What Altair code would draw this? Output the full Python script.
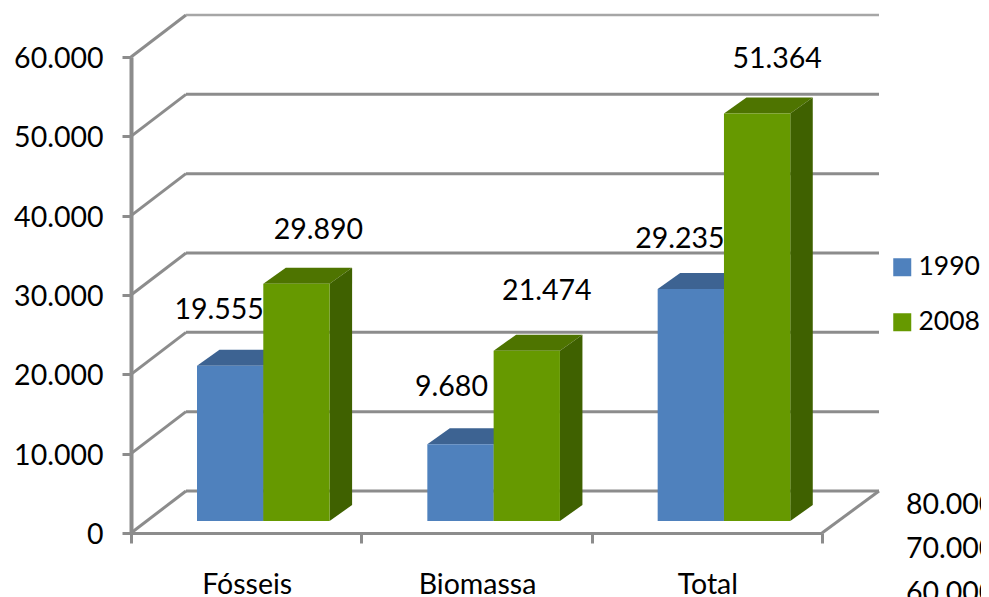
import altair as alt
import pandas as pd

# ---- values ----
categories = ["Fósseis", "Biomassa", "Total"]
series = ["1990", "2008"]
values_1990 = [19555, 9680, 29235]
values_2008 = [29890, 21474, 51364]
axis_ticks = [0, 10000, 20000, 30000, 40000, 50000, 60000]
stray_labels = ["80.000", "70.000", "60.000"]

# ---- geometry: pixel sizes converted to data units ----
W, H = 691, 476
X_UNIT = W / 3
Y_UNIT = H / 60000
def px_x(p): return p / X_UNIT
def px_y(p): return p / Y_UNIT
def fmt(v): return f"{v:,}".replace(",", ".")

WALL_DX, WALL_DY = px_x(55), px_y(42)
BAR_START, BAR_W = px_x(66), px_x(66.3)
BAR_DX, BAR_DY = px_x(22.5), px_y(16)
BASE = px_y(12)

BLUE, BLUE_TOP, BLUE_SIDE = "#4F81BD", "#3D6392", "#345580"
GREEN, GREEN_TOP, GREEN_SIDE = "#669900", "#4E7400", "#3F6100"
GRID = "#8C8C8C"
FONT = "Lato"
FS = 28.5

# per-label pixel offsets from the front-top-centre of the bar
label_off = {
    ("1990", 0): (-11, 56), ("2008", 0): (22, 54),
    ("1990", 1): (-9, 57), ("2008", 1): (20, 60),
    ("1990", 2): (-11, 50), ("2008", 2): (20, 55),
}

x_s = alt.Scale(domain=[0, 3], range=[0, W], nice=False, zero=False)
y_s = alt.Scale(domain=[0, 60000], range=[H, 0], nice=False, zero=False)
x_axis = alt.Axis(values=[0, 1, 2, 3], labels=False, grid=False, tickSize=10, tickWidth=3, tickColor=GRID,
                  domainColor=GRID, domainWidth=3, title=None)
y_axis = alt.Axis(values=axis_ticks, grid=False, tickSize=9, tickWidth=3, tickColor=GRID,
                  domainColor=GRID, domainWidth=4, labelFont=FONT, labelFontSize=FS, labelColor="black",
                  labelPadding=19, labelOffset=1.5,
                  labelExpr="replace(format(datum.value, ','), ',', '.')", title=None)
X = alt.X("x:Q", scale=x_s, axis=x_axis)
Y = alt.Y("y:Q", scale=y_s, axis=y_axis)

# walls
wall = []
for t in axis_ticks:
    if t != 60000:
        wall += [dict(id=f"g{t}", x=WALL_DX, y=t + WALL_DY), dict(id=f"g{t}", x=3 + px_x(57), y=t + WALL_DY)]
    wall += [dict(id=f"d{t}", x=0, y=t), dict(id=f"d{t}", x=WALL_DX, y=t + WALL_DY)]
wall += [dict(id="r", x=3, y=0), dict(id="r", x=3 + px_x(57), y=WALL_DY)]
wall_df = pd.DataFrame(wall)
top_df = pd.DataFrame([dict(x=WALL_DX, y=60000 + WALL_DY), dict(x=3 + px_x(57), y=60000 + WALL_DY)])

walls = alt.Chart(wall_df).mark_line(color=GRID, strokeWidth=3, clip=False).encode(x=X, y=Y, detail="id:N")
top_line = alt.Chart(top_df).mark_line(color="#A6A6A6", strokeWidth=2.5).encode(x=X, y=Y)

# bars
fronts, faces, labels = [], [], []
for s_i, (name, vals) in enumerate(zip(series, [values_1990, values_2008])):
    top_c, side_c = (BLUE_TOP, BLUE_SIDE) if s_i == 0 else (GREEN_TOP, GREEN_SIDE)
    for c_i, v in enumerate(vals):
        x0 = c_i + BAR_START + s_i * BAR_W
        x1 = x0 + BAR_W
        yt = BASE + v
        fronts.append(dict(x=x0, x2=x1, y=yt, y2=BASE, series=name))
        tid = f"t{s_i}{c_i}"
        faces += [
            dict(id=tid, fill=top_c, x=x0, y=yt, y2=yt),
            dict(id=tid, fill=top_c, x=x0 + BAR_DX, y=yt, y2=yt + BAR_DY),
            dict(id=tid, fill=top_c, x=x1, y=yt, y2=yt + BAR_DY),
            dict(id=tid, fill=top_c, x=x1 + BAR_DX, y=yt + BAR_DY, y2=yt + BAR_DY),
        ]
        sid = f"s{s_i}{c_i}"
        faces += [
            dict(id=sid, fill=side_c, x=x1, y=BASE, y2=yt),
            dict(id=sid, fill=side_c, x=x1 + BAR_DX, y=BASE + BAR_DY, y2=yt + BAR_DY),
        ]
        dx, dy = label_off[(name, c_i)]
        labels.append(dict(x=(x0 + x1) / 2 + px_x(dx), y=yt + px_y(dy), text=fmt(v)))

faces_df = pd.DataFrame(faces)
face_layer = alt.Chart(faces_df).mark_area(orient="vertical", opacity=1).encode(
    x=X, y=Y, y2="y2:Q", color=alt.Color("fill:N", scale=None), detail="id:N")

front_layer = alt.Chart(pd.DataFrame(fronts)).mark_bar(opacity=1).encode(
    x=X, x2="x2:Q", y=Y, y2="y2:Q",
    color=alt.Color("series:N", scale=alt.Scale(domain=series, range=[BLUE, GREEN]),
        legend=alt.Legend(orient="none", legendX=758, legendY=197, title=None, padding=0,
                          symbolType="square", symbolSize=324, symbolStrokeWidth=0, symbolOpacity=1,
                          labelFont=FONT, labelFontSize=26.5, labelColor="black", labelOffset=3,
                          rowPadding=28)),
)

def text_layer(df, **kw):
    return alt.Chart(df).mark_text(font=FONT, fontSize=FS, color="black", baseline="middle", **kw).encode(
        x=X, y=Y, text="text:N")

label_layer = text_layer(pd.DataFrame(labels), align="center")

cat_df = pd.DataFrame([dict(x=i + 0.5 + px_x(1), y=-px_y(52), text=c) for i, c in enumerate(categories)])
cat_layer = text_layer(cat_df, align="center")

stray_df = pd.DataFrame([dict(x=px_x(775), y=-px_y(k), text=t) for k, t in zip([-28, 16, 60], stray_labels)])
stray_layer = text_layer(stray_df, align="left")

chart = alt.layer(walls, top_line, face_layer, front_layer, label_layer, cat_layer, stray_layer).resolve_scale(
    color="independent"
).properties(
    width=W, height=H,
    autosize=alt.AutoSizeParams(type="none"),
    padding={"left": 123, "top": 49, "right": 159, "bottom": 64},
    background="white",
).configure_view(stroke=None)

chart.save("out.html", embed_options={"renderer": "svg", "actions": False})
